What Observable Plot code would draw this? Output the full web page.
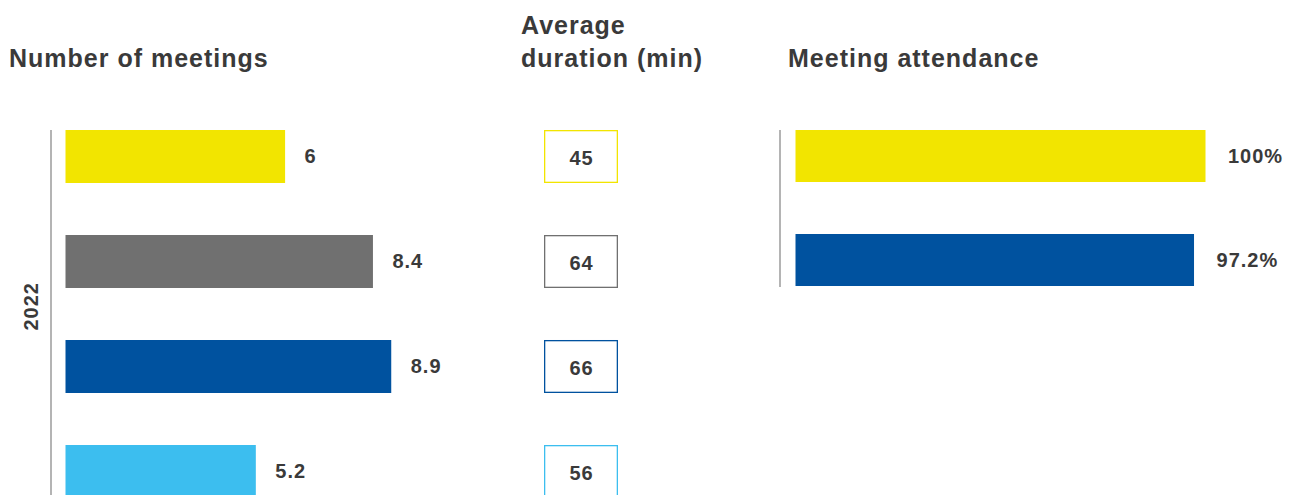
<!DOCTYPE html>
<html><head><meta charset="utf-8">
<script src="https://cdn.jsdelivr.net/npm/d3@7"></script>
<script src="https://cdn.jsdelivr.net/npm/@observablehq/plot@0.6"></script>
<style>
html,body{margin:0;padding:0;background:#fff;}
#chart{position:relative;width:1289px;height:495px;overflow:hidden;font-family:"Liberation Sans",Arial,sans-serif;color:#3a3a3a;}
.title{position:absolute;font-size:25px;font-weight:bold;line-height:33px;letter-spacing:1px;white-space:nowrap;}
.panel{position:absolute;top:0;}
</style></head><body>
<div id="chart">
  <div class="title" style="left:9px;top:42px">Number of meetings</div>
  <div class="title" style="left:521px;top:9px">Average<br>duration (min)</div>
  <div class="title" style="left:788px;top:42px">Meeting attendance</div>
</div>
<script>
// ---- data ----
const groups = ["Group 1", "Group 2", "Group 3", "Group 4"];
const groupColors = ["#F2E500", "#707070", "#00529F", "#3CBEEF"];
const meetings = [6, 8.4, 8.9, 5.2];
const durations = [45, 64, 66, 56];
const yearLabel = "2022";
const attendanceGroups = ["Group 1", "Group 3"];
const attendanceColors = ["#F2E500", "#00529F"];
const attendance = [100, 97.2];

const rowsMeet = groups.map((g, i) => ({group: g, value: meetings[i], color: groupColors[i]}));
const rowsDur = groups.map((g, i) => ({group: g, value: durations[i], color: groupColors[i]}));
const rowsAtt = attendanceGroups.map((g, i) => ({group: g, value: attendance[i], color: attendanceColors[i]}));

const FONT = "'Liberation Sans', Arial, sans-serif";
const TXT = "#3a3a3a";
const txt = {fontFamily: FONT, fontSize: 20, fontWeight: "bold", fill: TXT};
const svgStyle = {background: "transparent", letterSpacing: "1px", overflow: "hidden"};
const yBand = {domain: groups, range: [130, 500], paddingInner: 0.5, paddingOuter: 0, align: 0, axis: null};

const chart = document.getElementById("chart");
function place(el, left) {
  el.classList.add("panel");
  el.style.left = left + "px";
  chart.appendChild(el);
}

// Left panel: number of meetings
place(Plot.plot({
  width: 520, height: 495,
  marginLeft: 65.5, marginRight: 88.5, marginTop: 130, marginBottom: 0,
  style: svgStyle,
  x: {domain: [0, 10], axis: null},
  y: yBand,
  marks: [
    Plot.ruleX([0], {dx: -15, stroke: "#8c8c8c", strokeWidth: 1.3}),
    Plot.barX(rowsMeet, {x: "value", y: "group", fill: "color"}),
    Plot.text(rowsMeet, {x: "value", y: "group", text: d => String(d.value), dx: 19, textAnchor: "start", ...txt}),
    Plot.text([yearLabel], {frameAnchor: "left", dx: -34.5, dy: 17.5, rotate: -90, ...txt})
  ]
}), 0);

// Middle panel: average duration boxes
place(Plot.plot({
  width: 120, height: 495,
  marginLeft: 24, marginRight: 22, marginTop: 130, marginBottom: 0,
  style: svgStyle,
  x: {domain: ["duration"], padding: 0, axis: null},
  y: yBand,
  marks: [
    Plot.cell(rowsDur, {x: () => "duration", y: "group", fill: "white", stroke: "color", strokeWidth: 1.3, inset: 0.65}),
    Plot.text(rowsDur, {x: () => "duration", y: "group", text: d => String(d.value), dy: 2, ...txt})
  ]
}), 520);

// Right panel: meeting attendance
place(Plot.plot({
  width: 589, height: 495,
  marginLeft: 95.5, marginRight: 83.5, marginTop: 130, marginBottom: 208,
  style: svgStyle,
  x: {domain: [0, 100], axis: null},
  y: {domain: attendanceGroups, paddingInner: 0.5, paddingOuter: 0, align: 0, axis: null},
  marks: [
    Plot.ruleX([0], {dx: -16, stroke: "#8c8c8c", strokeWidth: 1.3}),
    Plot.barX(rowsAtt, {x: "value", y: "group", fill: "color"}),
    Plot.text(rowsAtt, {x: "value", y: "group", text: d => d.value + "%", dx: 22, textAnchor: "start", ...txt})
  ]
}), 700);
</script>
</body></html>
